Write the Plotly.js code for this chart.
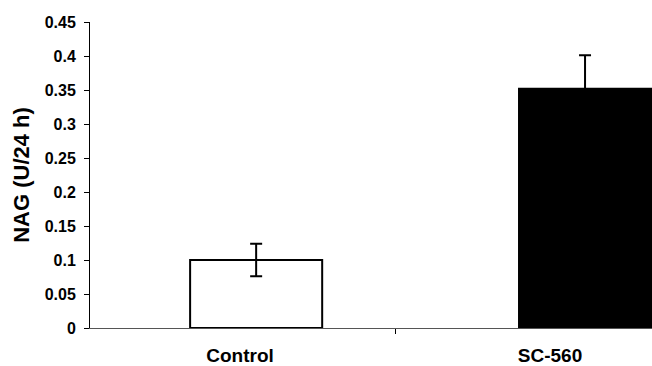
<!DOCTYPE html>
<html>
<head>
<meta charset="utf-8">
<script src="https://cdn.plot.ly/plotly-3.0.1.min.js"></script>
<style>html,body{margin:0;padding:0;background:#fff;}#chart{width:652px;height:366px;}</style>
</head>
<body>
<div id="chart"></div>
<script>
const categories = ['Control', 'SC-560'];
const values = [0.1, 0.352];
const errorsPlus = [0.024, 0.049];
const errorsMinus = [0.024, 0.049];
const yTickVals = [0, 0.05, 0.1, 0.15, 0.2, 0.25, 0.3, 0.35, 0.4, 0.45];
const yTickText = ['0', '0.05', '0.1', '0.15', '0.2', '0.25', '0.3', '0.35', '0.4', '0.45'];

const FONT = 'Liberation Sans, Arial, sans-serif';

const trace = {
  type: 'bar',
  x: categories,
  y: values,
  width: 0.426,
  offset: [-0.161, -0.1],
  marker: { color: ['#ffffff', '#000000'], line: { color: '#000000', width: 2 } },
  error_y: { type: 'data', array: errorsPlus, arrayminus: errorsMinus, symmetric: false, color: '#000000', thickness: 2, width: 6 },
  hoverinfo: 'none'
};

const layout = {
  width: 652, height: 366,
  margin: { l: 90, r: 0, t: 22, b: 38 },
  paper_bgcolor: '#ffffff', plot_bgcolor: '#ffffff',
  showlegend: false,
  font: { family: FONT, color: '#000000' },
  xaxis: {
    type: 'category',
    range: [-0.484, 1.329],
    tickson: 'boundaries',
    ticks: 'outside', ticklen: 5, tickcolor: '#000', tickwidth: 1,
    ticklabelstandoff: 10,
    showline: true, linecolor: '#555', linewidth: 1,
    showgrid: false, zeroline: false,
    tickfont: { size: 19, family: FONT, weight: 'bold', color: '#000' }
  },
  yaxis: {
    range: [0, 0.45],
    tickvals: yTickVals, ticktext: yTickText,
    ticks: 'outside', ticklen: 5, tickcolor: '#000', tickwidth: 1,
    ticklabelstandoff: 5,
    showline: true, linecolor: '#000', linewidth: 1,
    showgrid: false, zeroline: false,
    tickfont: { size: 16, family: FONT, weight: 'bold', color: '#000' },
    title: { text: 'NAG (U/24 h)', font: { size: 22, family: FONT, weight: 'bold', color: '#000' }, standoff: 8 }
  }
};

Plotly.newPlot('chart', [trace], layout, { displayModeBar: false, staticPlot: true });
</script>
</body>
</html>
